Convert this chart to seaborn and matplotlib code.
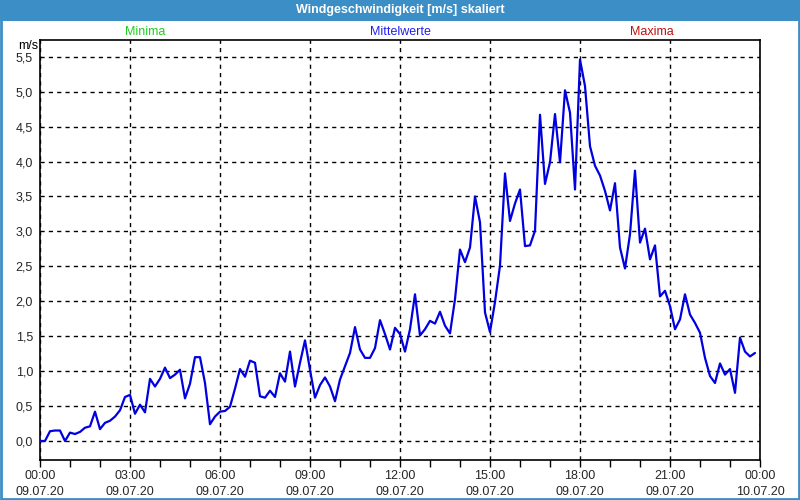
import matplotlib
matplotlib.use("Agg")
import matplotlib.pyplot as plt
import matplotlib.dates as mdates
from matplotlib.patches import Rectangle
from matplotlib.ticker import FuncFormatter, MultipleLocator
import numpy as np
import pandas as pd
import seaborn as sns

# ---- data (10-minute mean wind speed, m/s) ----
start_time = "2020-07-09 00:00"
interval = "10min"
wind_speed = [
    0.00, 0.00, 0.14, 0.15, 0.15, 0.00, 0.12, 0.10, 0.13, 0.19,
    0.21, 0.42, 0.17, 0.26, 0.29, 0.35, 0.44, 0.63, 0.66, 0.39,
    0.52, 0.41, 0.89, 0.78, 0.89, 1.05, 0.90, 0.95, 1.02, 0.61,
    0.82, 1.20, 1.20, 0.83, 0.24, 0.35, 0.42, 0.43, 0.49, 0.75,
    1.03, 0.92, 1.15, 1.12, 0.64, 0.62, 0.72, 0.63, 0.97, 0.85,
    1.28, 0.78, 1.12, 1.44, 1.02, 0.62, 0.80, 0.91, 0.78, 0.57,
    0.88, 1.07, 1.26, 1.63, 1.31, 1.19, 1.19, 1.33, 1.73, 1.53,
    1.31, 1.62, 1.53, 1.28, 1.60, 2.10, 1.51, 1.60, 1.72, 1.68,
    1.85, 1.65, 1.54, 2.03, 2.74, 2.56, 2.77, 3.50, 3.13, 1.84,
    1.56, 1.99, 2.51, 3.83, 3.15, 3.40, 3.60, 2.79, 2.80, 3.01,
    4.67, 3.68, 3.99, 4.68, 3.99, 5.02, 4.70, 3.60, 5.46, 5.08,
    4.22, 3.94, 3.80, 3.58, 3.30, 3.69, 2.77, 2.47, 2.96, 3.87,
    2.84, 3.04, 2.60, 2.80, 2.07, 2.15, 1.93, 1.60, 1.74, 2.10,
    1.81, 1.69, 1.55, 1.19, 0.93, 0.83, 1.11, 0.95, 1.03, 0.69,
    1.48, 1.28, 1.21, 1.26,
]
title_text = "Windgeschwindigkeit [m/s] skaliert"
legend_labels = ["Minima", "Mittelwerte", "Maxima"]
legend_colors = ["#22cc22", "#2020ee", "#c01010"]
unit_label = "m/s"

times = pd.date_range(start_time, periods=len(wind_speed), freq=interval)
df = pd.DataFrame({"time": times, "speed": wind_speed})

sns.set_style("white")
plt.rcParams["font.family"] = ["Liberation Sans", "DejaVu Sans"]

fig = plt.figure(figsize=(8, 5), dpi=100)
fig.patch.set_facecolor("white")
ax = fig.add_axes([0.05, 0.08, 0.90, 0.84])

sns.lineplot(data=df, x="time", y="speed", ax=ax, color="#0000e0",
             linewidth=1.6, zorder=3)

t0 = pd.Timestamp(start_time)
ax.set_xlim(t0, t0 + pd.Timedelta(hours=24))
ax.set_ylim(-0.272, 5.74)

ax.xaxis.set_major_locator(mdates.HourLocator(byhour=range(0, 24, 3)))
ax.xaxis.set_minor_locator(mdates.HourLocator())
ax.xaxis.set_major_formatter(mdates.DateFormatter("%H:%M\n%d.%m.%y"))
ax.yaxis.set_major_locator(MultipleLocator(0.5))
ax.yaxis.set_major_formatter(FuncFormatter(lambda v, p: f"{v:.1f}".replace(".", ",")))

ax.set_xlabel("")
ax.set_ylabel("")
ax.grid(True, which="major", color="black", linestyle=(0, (3, 3)), linewidth=1)
ax.set_axisbelow(False)
for s in ax.spines.values():
    s.set_visible(True)
    s.set_color("black")
    s.set_linewidth(1.2)

ax.tick_params(axis="x", which="both", direction="out", length=5, width=1,
               color="black", labelsize=9, pad=2, bottom=True)
ax.tick_params(axis="y", which="both", length=0, labelsize=9, pad=5, left=False)
for tk in ax.xaxis.get_major_ticks():
    tk.label1.set_linespacing(1.5)

# title bar and frame
fig.patches.append(Rectangle((0, 0.958), 1, 0.042, transform=fig.transFigure,
                             facecolor="#3c8fc6", edgecolor="none", zorder=0))
fig.patches.append(Rectangle((0.0015, 0.002), 0.997, 0.996, transform=fig.transFigure,
                             fill=False, edgecolor="#3c8fc6", linewidth=2, zorder=1))
fig.text(0.5, 1 - 10 / 500, title_text, color="white", fontsize=9,
         fontweight="bold", ha="center", va="center")

for lbl, col, xpx in zip(legend_labels, legend_colors, [145, 400, 652]):
    fig.text(xpx / 800, 1 - 32 / 500, lbl, color=col, fontsize=9,
             ha="center", va="center")
fig.text(28 / 800, 1 - 46 / 500, unit_label, color="black", fontsize=9,
         ha="center", va="center")

fig.savefig("out.png", dpi=100, facecolor="white")
